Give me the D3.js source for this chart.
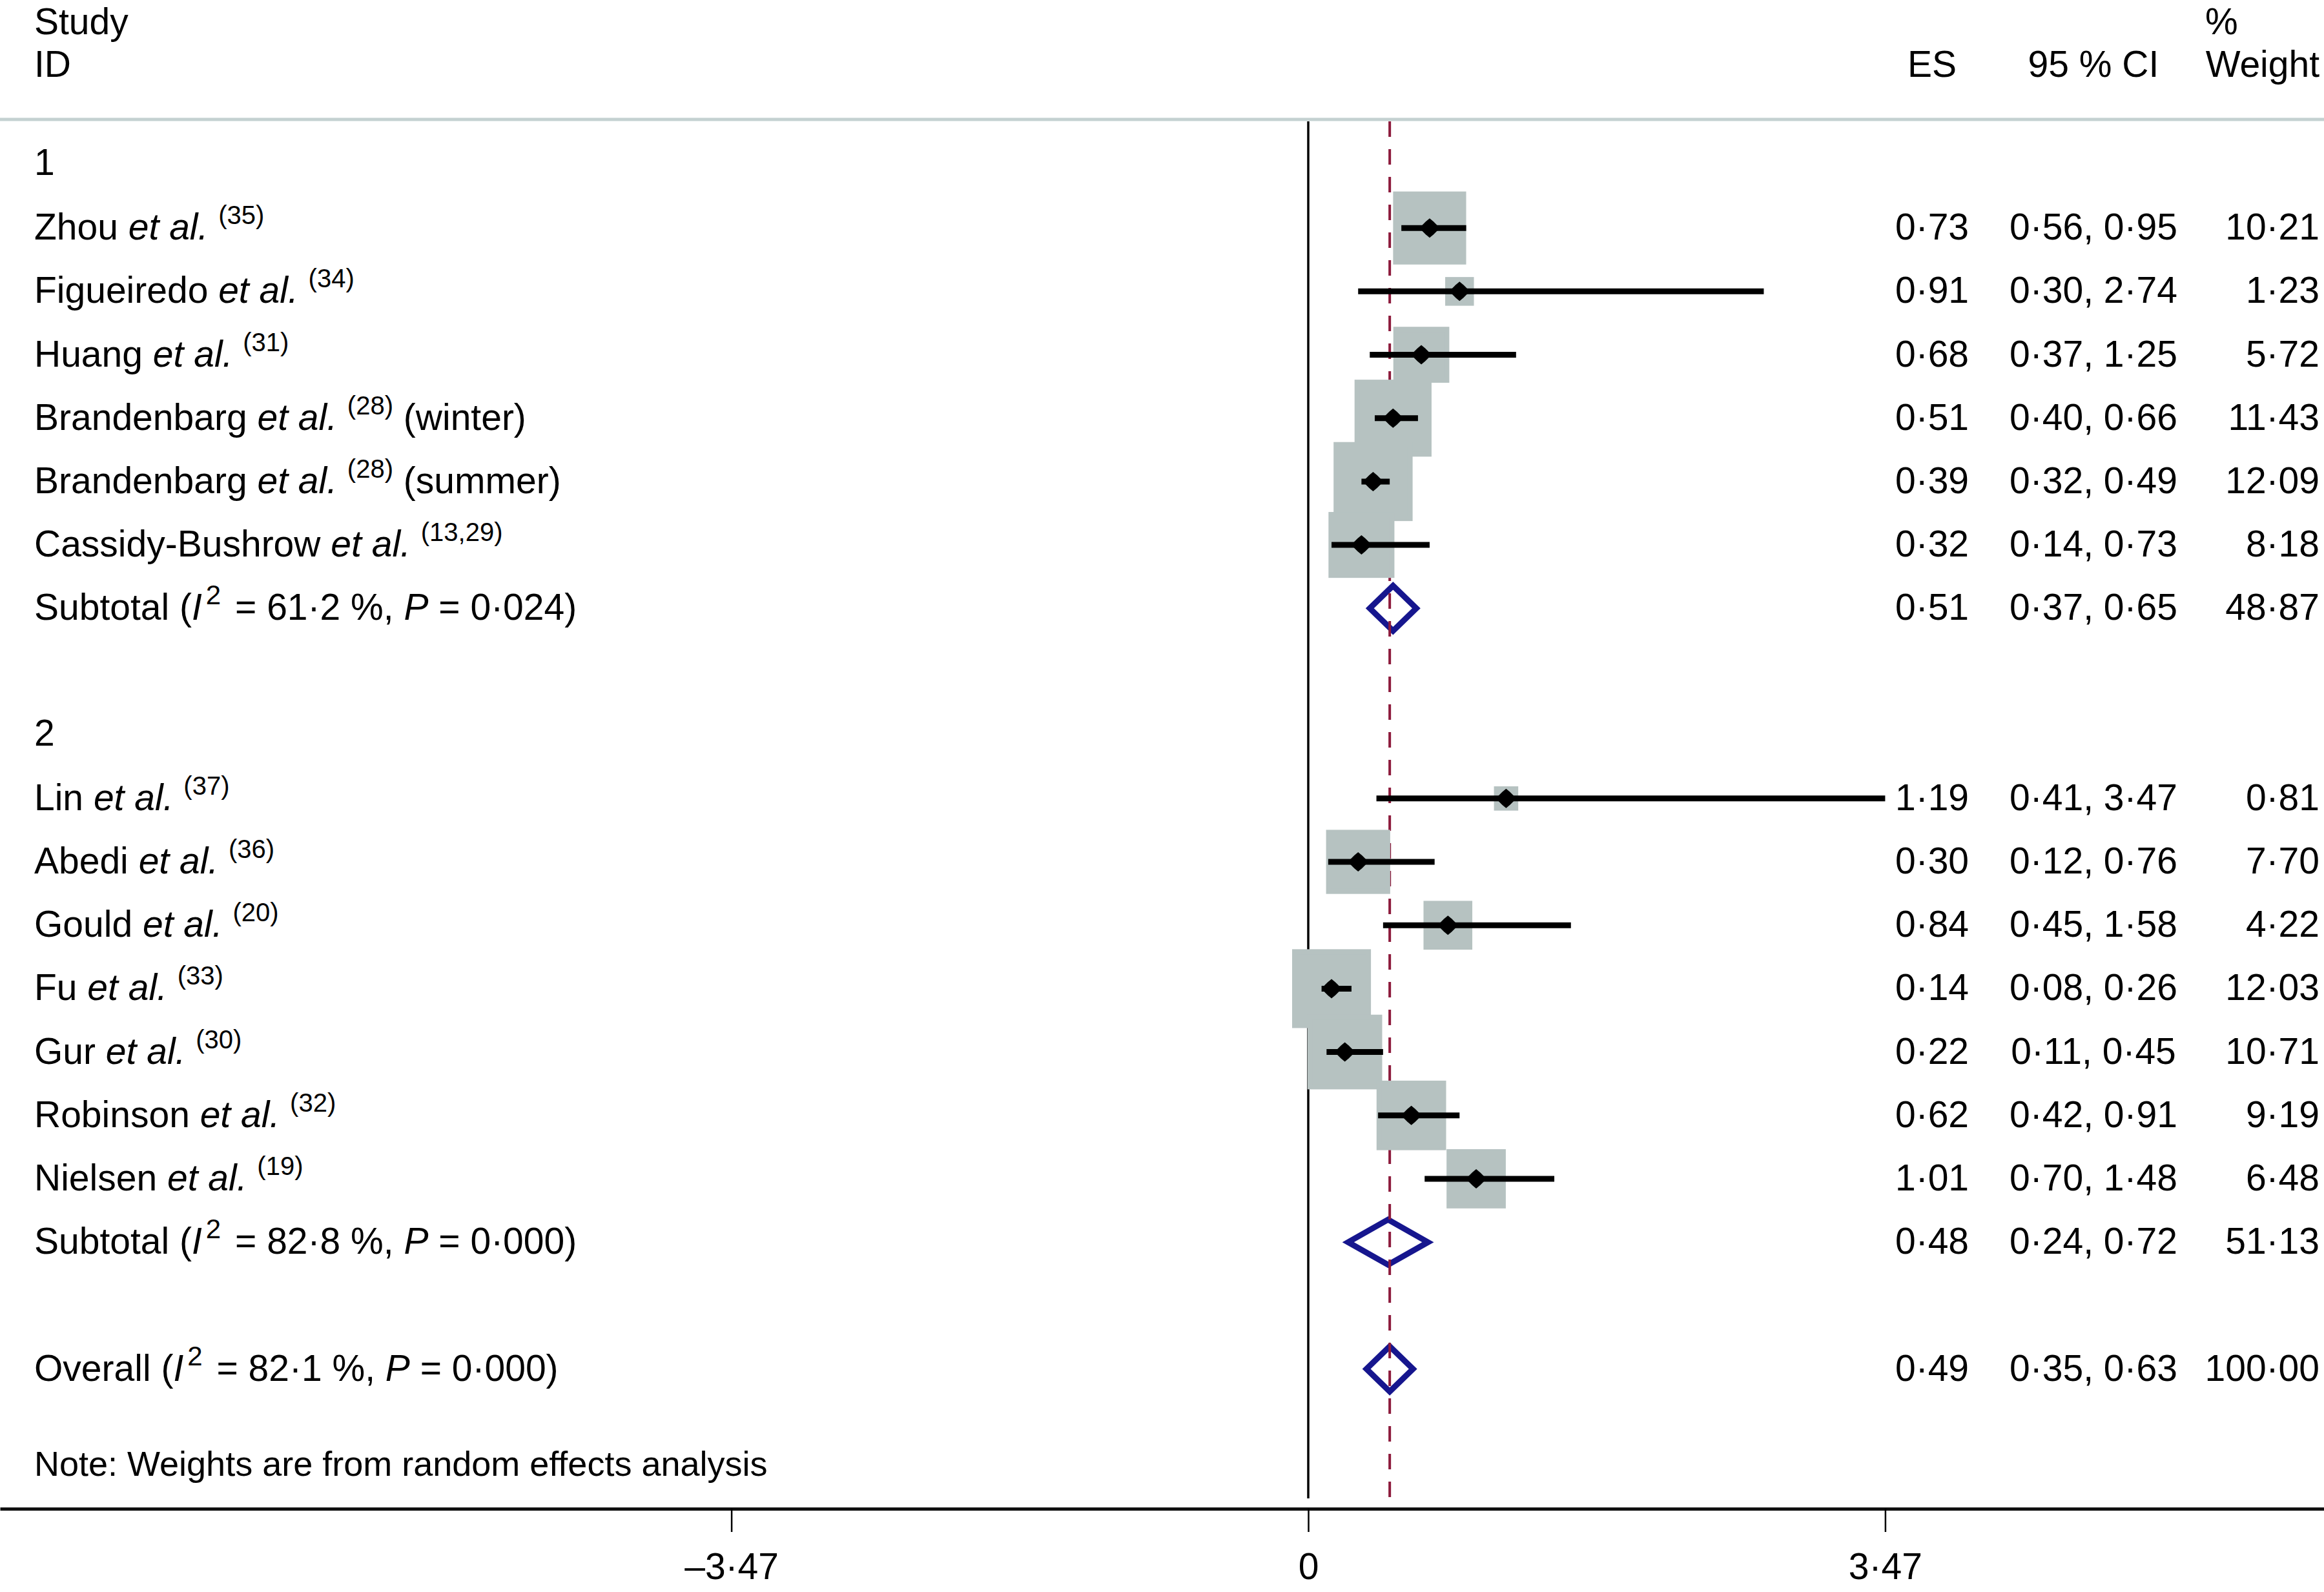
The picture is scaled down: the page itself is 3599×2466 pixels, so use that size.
<!DOCTYPE html>
<html>
<head>
<meta charset="utf-8">
<script src="https://cdn.jsdelivr.net/npm/d3@7"></script>
<style>
  html, body { margin: 0; padding: 0; background: #ffffff; }
  svg { display: block; }
  text { font-family: "Liberation Sans", Arial, Helvetica, sans-serif; fill: #000; }
</style>
</head>
<body>
<svg id="chart"></svg>
<script>
// ---------------- DATA ----------------
const studyNames   = ["Zhou", "Figueiredo", "Huang", "Brandenbarg", "Brandenbarg", "Cassidy-Bushrow",
                      "Lin", "Abedi", "Gould", "Fu", "Gur", "Robinson", "Nielsen"];
const studyRefs    = ["35", "34", "31", "28", "28", "13,29", "37", "36", "20", "33", "30", "32", "19"];
const studySuffix  = ["", "", "", "(winter)", "(summer)", "", "", "", "", "", "", "", ""];
const studyGroup   = [1, 1, 1, 1, 1, 1, 2, 2, 2, 2, 2, 2, 2];
const studyES      = [0.73, 0.91, 0.68, 0.51, 0.39, 0.32, 1.19, 0.30, 0.84, 0.14, 0.22, 0.62, 1.01];
const studyLo      = [0.56, 0.30, 0.37, 0.40, 0.32, 0.14, 0.41, 0.12, 0.45, 0.08, 0.11, 0.42, 0.70];
const studyHi      = [0.95, 2.74, 1.25, 0.66, 0.49, 0.73, 3.47, 0.76, 1.58, 0.26, 0.45, 0.91, 1.48];
const studyWeight  = [10.21, 1.23, 5.72, 11.43, 12.09, 8.18, 0.81, 7.70, 4.22, 12.03, 10.71, 9.19, 6.48];

const groupLabels  = ["1", "2"];
const subtotalES   = [0.51, 0.48];
const subtotalLo   = [0.37, 0.24];
const subtotalHi   = [0.65, 0.72];
const subtotalW    = [48.87, 51.13];
const subtotalI2   = [61.2, 82.8];
const subtotalP    = ["0·024", "0·000"];

const overallES = 0.49, overallLo = 0.35, overallHi = 0.63, overallW = 100.00;
const overallI2 = 82.1, overallP = "0·000";

const tickValues = [-3.47, 0, 3.47];
const tickLabels = ["–3·47", "0", "3·47"];
const noteText = "Note: Weights are from random effects analysis";

// ---------------- LAYOUT ----------------
const W = 3599, H = 2466;
const FS = 57, FS_SUP = 40, SUP_RAISE = 24;
const svg = d3.select("#chart").attr("width", W).attr("height", H);

const x = d3.scaleLinear().domain([-3.47, 3.47]).range([1132.6, 2919.4]);
const y = d3.scaleLinear().domain([0, 19]).range([255, 2120.5]);
const boxSide = d3.scaleSqrt().domain([0, 1]).range([0, 32.9]);

const fmt2 = v => d3.format(".2f")(v).replace(".", "·");
const fmt1 = v => d3.format(".1f")(v).replace(".", "·");

const leftX = 53, esX = 2992, ciX = 3242, wRight = 3592, wLeft = 3415;
const baseOff = 18;
const plotTop = 188, plotBottom = 2321, axisY = 2337;

// build rows
const rows = [];
let r = 0;
for (let g = 0; g < 2; g++) {
  rows.push({type: "group", label: groupLabels[g], row: r++});
  studyNames.forEach((n, i) => {
    if (studyGroup[i] === g + 1) {
      rows.push({type: "study", i, row: r++, es: studyES[i], lo: studyLo[i], hi: studyHi[i], w: studyWeight[i]});
    }
  });
  rows.push({type: "sub", g, row: r++, es: subtotalES[g], lo: subtotalLo[g], hi: subtotalHi[g], w: subtotalW[g],
             i2: subtotalI2[g], p: subtotalP[g], name: "Subtotal"});
  r++; // blank row
}
rows.push({type: "sub", row: r++, es: overallES, lo: overallLo, hi: overallHi, w: overallW,
           i2: overallI2, p: overallP, name: "Overall"});

// ---------------- HEADER ----------------
const hdr = svg.append("g").style("font-size", FS + "px");
hdr.append("text").attr("x", leftX).attr("y", 53).text("Study");
hdr.append("text").attr("x", leftX).attr("y", 119).text("ID");
hdr.append("text").attr("x", esX).attr("y", 119).attr("text-anchor", "middle").text("ES");
hdr.append("text").attr("x", ciX).attr("y", 119).attr("text-anchor", "middle").text("95 % CI");
hdr.append("text").attr("x", wLeft).attr("y", 53).text("%");
hdr.append("text").attr("x", wRight).attr("y", 119).attr("text-anchor", "end").text("Weight");

svg.append("line").attr("x1", 0).attr("x2", W).attr("y1", 185).attr("y2", 185)
  .attr("stroke", "#c4d1d1").attr("stroke-width", 5);

// ---------------- REFERENCE LINES ----------------
svg.append("line").attr("x1", x(0)).attr("x2", x(0)).attr("y1", plotTop).attr("y2", plotBottom)
  .attr("stroke", "#000").attr("stroke-width", 3.5);

const subs = rows.filter(d => d.type === "sub");
const studies = rows.filter(d => d.type === "study");

// diamonds
svg.append("g").selectAll("path").data(subs).join("path")
  .attr("d", d => {
    const cy = y(d.row);
    return `M${x(d.lo)},${cy} L${x(d.es)},${cy - 35} L${x(d.hi)},${cy} L${x(d.es)},${cy + 35} Z`;
  })
  .attr("fill", "none").attr("stroke", "#16168e").attr("stroke-width", 9).attr("stroke-linejoin", "miter");

svg.append("line").attr("x1", x(overallES)).attr("x2", x(overallES)).attr("y1", plotTop).attr("y2", plotBottom)
  .attr("stroke", "#8c1a3c").attr("stroke-width", 4).attr("stroke-dasharray", "24,19");

// boxes
svg.append("g").selectAll("rect").data(studies).join("rect")
  .attr("x", d => x(d.es) - boxSide(d.w) / 2)
  .attr("y", d => y(d.row) - boxSide(d.w) / 2)
  .attr("width", d => boxSide(d.w))
  .attr("height", d => boxSide(d.w))
  .attr("fill", "#b6c2c1").attr("stroke", "#b6c2c1").attr("stroke-width", 8);

// CI lines
svg.append("g").selectAll("line").data(studies).join("line")
  .attr("x1", d => x(d.lo)).attr("x2", d => x(d.hi))
  .attr("y1", d => y(d.row)).attr("y2", d => y(d.row))
  .attr("stroke", "#000").attr("stroke-width", 9);

// point markers
svg.append("g").selectAll("path").data(studies).join("path")
  .attr("transform", d => `translate(${x(d.es)},${y(d.row)})`)
  .attr("d", "M0,-15 L6,-10 L12,-4 L12,4 L6,10 L0,15 L-6,10 L-12,4 L-12,-4 L-6,-10 Z")
  .attr("fill", "#000");

// ---------------- LABELS ----------------
const lab = svg.append("g").style("font-size", FS + "px");

rows.filter(d => d.type === "group").forEach(d => {
  lab.append("text").attr("x", leftX).attr("y", y(d.row) + baseOff - 2).text(d.label);
});

studies.forEach(d => {
  const t = lab.append("text").attr("x", leftX).attr("y", y(d.row) + baseOff);
  t.append("tspan").text(studyNames[d.i] + " ");
  t.append("tspan").attr("font-style", "italic").text("et al.");
  t.append("tspan").text(" ");
  t.append("tspan").attr("dy", -SUP_RAISE).style("font-size", FS_SUP + "px").text("(" + studyRefs[d.i] + ")");
  t.append("tspan").attr("dy", SUP_RAISE).text(studySuffix[d.i] ? " " + studySuffix[d.i] : "");
});

subs.forEach(d => {
  const t = lab.append("text").attr("x", leftX).attr("y", y(d.row) + baseOff);
  t.append("tspan").text(d.name + " (");
  t.append("tspan").attr("font-style", "italic").text("I");
  t.append("tspan").attr("dx", 6).attr("dy", -SUP_RAISE).style("font-size", (FS_SUP + 2) + "px").text("2");
  t.append("tspan").attr("dx", 6).attr("dy", SUP_RAISE).text(" = " + fmt1(d.i2) + " %, ");
  t.append("tspan").attr("font-style", "italic").text("P");
  t.append("tspan").text(" = " + d.p + ")");
});

// numeric columns
const numRows = rows.filter(d => d.type === "study" || d.type === "sub");
lab.append("g").selectAll("text").data(numRows).join("text")
  .attr("x", esX).attr("y", d => y(d.row) + baseOff).attr("text-anchor", "middle")
  .text(d => fmt2(d.es));
lab.append("g").selectAll("text").data(numRows).join("text")
  .attr("x", ciX).attr("y", d => y(d.row) + baseOff).attr("text-anchor", "middle")
  .text(d => fmt2(d.lo) + ", " + fmt2(d.hi));
lab.append("g").selectAll("text").data(numRows).join("text")
  .attr("x", wRight).attr("y", d => y(d.row) + baseOff).attr("text-anchor", "end")
  .text(d => fmt2(d.w));

// note
svg.append("text").attr("x", leftX).attr("y", y(20.5) + baseOff).style("font-size", "54px").text(noteText);

// ---------------- AXIS ----------------
const xAxisScale = d3.scaleLinear().domain([x.invert(0), x.invert(W)]).range([0, W]);
const axis = d3.axisBottom(xAxisScale)
  .tickValues(tickValues)
  .tickFormat((v, i) => tickLabels[i])
  .tickSizeInner(36).tickSizeOuter(0);
const ax = svg.append("g").attr("transform", `translate(0,${axisY})`).call(axis);
ax.select(".domain").attr("stroke", "#111").attr("stroke-width", 5);
ax.selectAll(".tick line").attr("stroke", "#000").attr("stroke-width", 2.5);
ax.selectAll(".tick text").attr("y", 109).attr("dy", 0)
  .style("font-size", FS + "px").style("font-family", '"Liberation Sans", Arial, Helvetica, sans-serif')
  .attr("fill", "#000");
</script>
</body>
</html>
